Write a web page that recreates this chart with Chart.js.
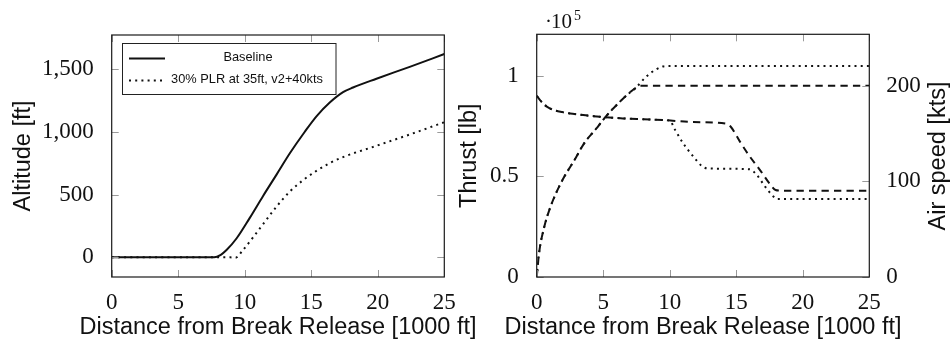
<!DOCTYPE html>
<html>
<head>
<meta charset="utf-8">
<script src="https://cdn.jsdelivr.net/npm/chart.js@4.4.1/dist/chart.umd.min.js"></script>
<style>
  body { margin: 0; background: #fff; }
  #wrap { position: relative; width: 952px; height: 344px; overflow: hidden; }
  canvas { position: absolute; top: 0; }
  #altChart { left: 0; }
  #speedChart { left: 452px; }
</style>
</head>
<body>
<div id="wrap">
  <canvas id="altChart" width="480" height="344"></canvas>
  <canvas id="speedChart" width="500" height="344"></canvas>
</div>
<script>
// ticks
const distTicks = [0, 5, 10, 15, 20, 25];      // 1000 ft
const altTicks = [0, 500, 1000, 1500];         // ft
const thrustTicks = [0, 0.5, 1];               // x 10^5 lb
const speedTicks = [0, 100, 200];              // kts

// altitude vs distance
const altBaseX = [0, 7.7, 8.2, 8.63, 9.38, 10.38, 11.38, 12.39, 13.39, 14.5, 15.39, 16.39, 17.39, 18.14, 19.9, 22.4, 25];
const altBaseY = [0, 0, 20, 58, 150, 315, 490, 660, 830, 1000, 1125, 1235, 1318, 1355, 1425, 1520, 1622];
const altPlrX = [0, 8.9, 9.3, 9.88, 10.63, 11.38, 12.39, 13.39, 14.38, 15.39, 16.39, 17.39, 19.9, 22.4, 25];
const altPlrY = [0, 0, -3, 60, 160, 265, 405, 525, 615, 690, 752, 800, 890, 980, 1078];

// thrust (x 10^5 lb) vs distance
const thrBaseX = [0, 0.45, 0.95, 1.95, 2.96, 3.96, 5.09, 6.47, 7.97, 9.47, 11.77, 14.2, 14.6, 15.3, 16.0, 16.8, 17.55, 17.95, 18.4, 25];
const thrBaseY = [0.90, 0.864, 0.839, 0.819, 0.809, 0.801, 0.794, 0.788, 0.784, 0.780, 0.770, 0.762, 0.745, 0.670, 0.600, 0.530, 0.460, 0.432, 0.429, 0.429];
const thrPlrX = [0, 0.45, 0.95, 1.95, 2.96, 3.96, 5.09, 6.47, 7.97, 9.47, 10.0, 10.4, 11.0, 11.77, 12.4, 12.8, 14.0, 16.0, 16.54, 17.17, 17.79, 18.1, 25];
const thrPlrY = [0.90, 0.864, 0.839, 0.819, 0.809, 0.801, 0.794, 0.788, 0.784, 0.780, 0.777, 0.731, 0.665, 0.599, 0.552, 0.540, 0.538, 0.535, 0.507, 0.449, 0.400, 0.387, 0.387];

// air speed (kts) vs distance
const spdBaseX = [0, 0.08, 0.15, 0.58, 0.95, 1.45, 2.08, 2.83, 3.58, 4.59, 5.09, 6.09, 6.84, 7.47, 7.8, 25];
const spdBaseY = [0, 11, 22, 53, 70, 87.5, 105, 122, 140, 157, 166, 181, 191, 198, 200, 200];
const spdPlrX = [0, 0.08, 0.15, 0.58, 0.95, 1.45, 2.08, 2.83, 3.58, 4.59, 5.09, 6.09, 6.84, 7.47, 8.2, 8.97, 9.47, 10.0, 25];
const spdPlrY = [0, 11, 22, 53, 70, 87.5, 105, 122, 140, 157, 166, 181, 191, 198, 209, 217, 220, 220.6, 220.6];

const pts = (xs, ys) => xs.map((x, i) => ({x: x, y: ys[i]}));

const tickFont = {family: 'Liberation Serif', size: 23};
const titleFont = {family: 'Liberation Sans', size: 23.5};
const ink = '#111';
const DOTS = [2, 4.2];
const DASH = [7.3, 5.2];
const X_TITLE = 'Distance from Break Release [1000 ft]';

/* frame, inward gray tick marks and the x title (drawn without width limit) */
const frameTicks = {
  id: 'frameTicks',
  afterDatasetsDraw(chart, args, opts) {
    const {ctx, chartArea: a, scales} = chart;
    const len = 7;
    ctx.save();
    ctx.strokeStyle = '#9a9a9a';
    ctx.lineWidth = 1;
    ctx.beginPath();
    scales.x.ticks.forEach(t => {
      const px = Math.round(scales.x.getPixelForValue(t.value)) + 0.5;
      ctx.moveTo(px, a.bottom); ctx.lineTo(px, a.bottom - len);
      ctx.moveTo(px, a.top); ctx.lineTo(px, a.top + len);
    });
    scales[opts.left].ticks.forEach(t => {
      const py = Math.round(scales[opts.left].getPixelForValue(t.value)) + 0.5;
      ctx.moveTo(a.left, py); ctx.lineTo(a.left + len, py);
    });
    scales[opts.right].ticks.forEach(t => {
      const py = Math.round(scales[opts.right].getPixelForValue(t.value)) + 0.5;
      ctx.moveTo(a.right, py); ctx.lineTo(a.right - len, py);
    });
    ctx.stroke();
    ctx.strokeStyle = '#1a1a1a';
    ctx.lineWidth = 1.2;
    ctx.strokeRect(a.left, a.top, a.right - a.left, a.bottom - a.top);

    ctx.fillStyle = ink;
    ctx.font = titleFont.size + 'px "' + titleFont.family + '"';
    ctx.textAlign = 'center';
    ctx.textBaseline = 'middle';
    ctx.fillText(X_TITLE, (a.left + a.right) / 2, 328);
    ctx.restore();
  }
};

/* boxed legend of the altitude plot */
const altLegend = {
  id: 'altLegend',
  afterDraw(chart) {
    const ctx = chart.ctx;
    ctx.save();
    ctx.fillStyle = '#fff';
    ctx.fillRect(122.5, 43.5, 213.5, 51);
    ctx.strokeStyle = '#222';
    ctx.lineWidth = 1;
    ctx.strokeRect(122.5, 43.5, 213.5, 51);
    ctx.strokeStyle = ink;
    ctx.lineWidth = 2;
    ctx.beginPath(); ctx.moveTo(129, 58.5); ctx.lineTo(165, 58.5); ctx.stroke();
    ctx.setLineDash(DOTS);
    ctx.beginPath(); ctx.moveTo(129, 80.5); ctx.lineTo(165, 80.5); ctx.stroke();
    ctx.setLineDash([]);
    ctx.fillStyle = ink;
    ctx.font = '12.8px "Liberation Sans"';
    ctx.textAlign = 'center';
    ctx.textBaseline = 'middle';
    ctx.fillText('Baseline', 248, 57.5);
    ctx.fillText('30% PLR at 35ft, v2+40kts', 247, 79.5);
    ctx.restore();
  }
};

/* exponent over the thrust axis and the right axis title */
const speedExtras = {
  id: 'speedExtras',
  afterDraw(chart) {
    const ctx = chart.ctx;
    ctx.save();
    ctx.fillStyle = ink;
    ctx.textBaseline = 'alphabetic';
    ctx.font = '21px "Liberation Serif"';
    ctx.fillText('\u00b7', 545 - 452, 28);
    ctx.fillText('10', 551 - 452, 28);
    ctx.font = '14px "Liberation Serif"';
    ctx.fillText('5', 574 - 452, 20);
    ctx.translate(945 - 452, 156);
    ctx.rotate(-Math.PI / 2);
    ctx.textAlign = 'center';
    ctx.font = '23.5px "Liberation Sans"';
    ctx.fillText('Air speed [kts]', 0, 0);
    ctx.restore();
  }
};

function xScale() {
  return {
    type: 'linear', min: 0, max: 25,
    afterBuildTicks: s => { s.ticks = distTicks.map(v => ({value: v})); },
    afterFit: s => { s.height = 67; },
    grid: {display: false},
    border: {display: false},
    ticks: {font: tickFont, color: ink, padding: 4, maxRotation: 0, autoSkip: false}
  };
}

function line(data, dash, width) {
  return {
    data: data,
    borderColor: ink,
    borderWidth: width,
    borderDash: dash,
    borderCapStyle: 'butt',
    pointRadius: 0,
    fill: false,
    cubicInterpolationMode: 'monotone'
  };
}

new Chart(document.getElementById('altChart'), {
  type: 'line',
  data: {
    datasets: [
      line(pts(altBaseX, altBaseY), [], 2),
      line(pts(altPlrX, altPlrY), DOTS, 2)
    ]
  },
  options: {
    responsive: false,
    animation: false,
    events: [],
    layout: {padding: {top: 35, right: 35.7, left: 0, bottom: 0}},
    plugins: {legend: {display: false}, tooltip: {enabled: false}, frameTicks: {left: 'y', right: 'y'}},
    scales: {
      x: xScale(),
      y: {
        type: 'linear', min: -157, max: 1774,
        afterBuildTicks: s => { s.ticks = altTicks.map(v => ({value: v})); },
        afterFit: s => { s.width = 111.7; },
        grid: {display: false},
        border: {display: false},
        ticks: {font: tickFont, color: ink, padding: 10, callback: v => v.toLocaleString('en-US')},
        title: {display: true, text: 'Altitude [ft]', font: titleFont, color: ink, padding: {top: 9, bottom: 0}}
      }
    }
  },
  plugins: [frameTicks, altLegend]
});

new Chart(document.getElementById('speedChart'), {
  type: 'line',
  data: {
    datasets: [
      Object.assign(line(pts(thrBaseX, thrBaseY), DASH, 2), {yAxisID: 'yT'}),
      Object.assign(line(pts(thrPlrX, thrPlrY), DOTS, 2), {yAxisID: 'yT'}),
      Object.assign(line(pts(spdBaseX, spdBaseY), DASH, 2), {yAxisID: 'yS'}),
      Object.assign(line(pts(spdPlrX, spdPlrY), DOTS, 2), {yAxisID: 'yS'})
    ]
  },
  options: {
    responsive: false,
    animation: false,
    events: [],
    layout: {padding: {top: 34.3, right: 0, left: 0, bottom: 0}},
    plugins: {legend: {display: false}, tooltip: {enabled: false}, frameTicks: {left: 'yT', right: 'yS'}},
    scales: {
      x: xScale(),
      yT: {
        type: 'linear', position: 'left', min: 0, max: 1.2057,
        afterBuildTicks: s => { s.ticks = thrustTicks.map(v => ({value: v})); },
        afterFit: s => { s.width = 84.7; },
        grid: {display: false},
        border: {display: false},
        ticks: {font: tickFont, color: ink, padding: 10, callback: v => String(v)},
        title: {display: true, text: 'Thrust [lb]', font: titleFont, color: ink, padding: {top: 3, bottom: 0}}
      },
      yS: {
        type: 'linear', position: 'right', min: 0, max: 253.7,
        afterBuildTicks: s => { s.ticks = speedTicks.map(v => ({value: v})); },
        afterFit: s => { s.width = 82.7; },
        grid: {display: false},
        border: {display: false},
        ticks: {font: tickFont, color: ink, padding: 9, callback: v => String(v)}
      }
    }
  },
  plugins: [frameTicks, speedExtras]
});
</script>
</body>
</html>
